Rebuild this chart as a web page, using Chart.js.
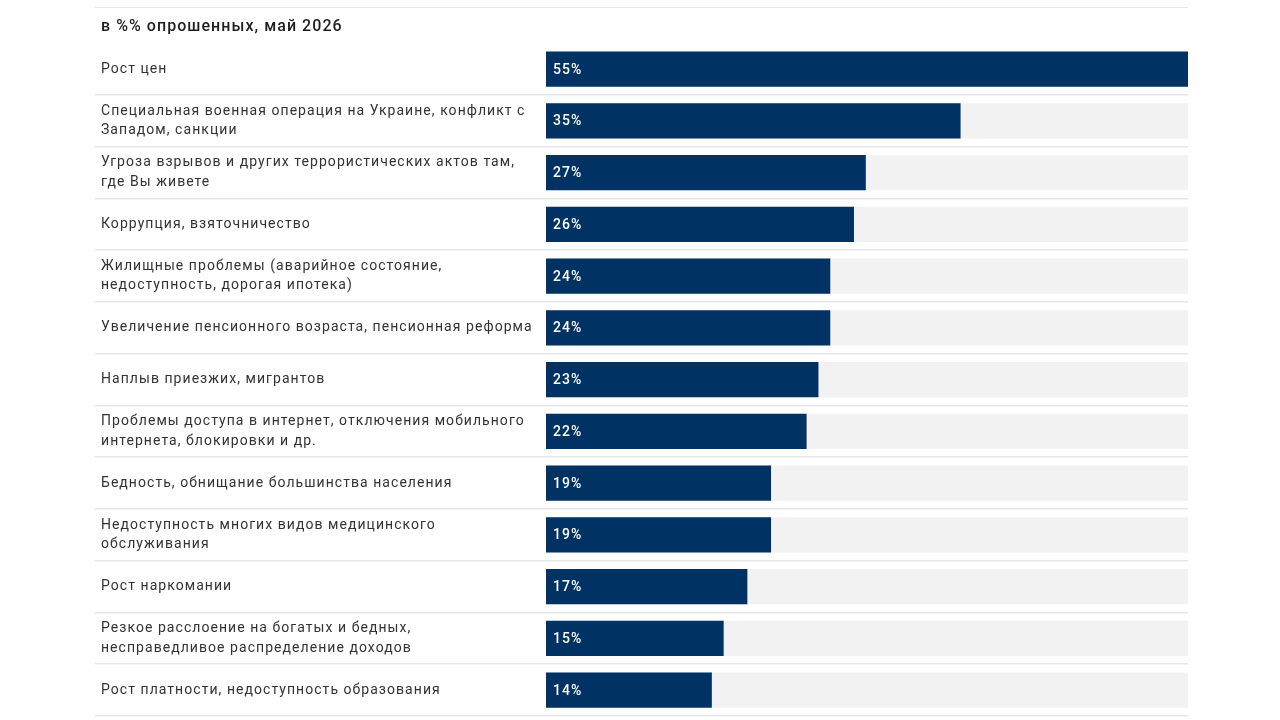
<!DOCTYPE html>
<html lang="ru">
<head>
<meta charset="utf-8">
<script src="https://cdn.jsdelivr.net/npm/chart.js@4.4.1/dist/chart.umd.min.js"></script>
<style>
  body { margin: 0; background: #fff; }
  .wrap { position: relative; width: 1280px; height: 720px; }
  .topline { position: absolute; left: 95px; top: 7px; width: 1093px; height: 1px; background: #e6e6e6; }
</style>
</head>
<body>
<div class="wrap">
  <div class="topline"></div>
  <canvas id="chart" width="1280" height="720"></canvas>
</div>
<script>
'use strict';

const title = 'в %% опрошенных, май 2026';

const categories = [
  'Рост цен',
  [ 'Специальная военная операция на Украине, конфликт с', 'Западом, санкции' ],
  [ 'Угроза взрывов и других террористических актов там,', 'где Вы живете' ],
  'Коррупция, взяточничество',
  [ 'Жилищные проблемы (аварийное состояние,', 'недоступность, дорогая ипотека)' ],
  'Увеличение пенсионного возраста, пенсионная реформа',
  'Наплыв приезжих, мигрантов',
  [ 'Проблемы доступа в интернет, отключения мобильного', 'интернета, блокировки и др.' ],
  'Бедность, обнищание большинства населения',
  [ 'Недоступность многих видов медицинского', 'обслуживания' ],
  'Рост наркомании',
  [ 'Резкое расслоение на богатых и бедных,', 'несправедливое распределение доходов' ],
  'Рост платности, недоступность образования'
];

const values = [ 55, 35, 27, 26, 24, 24, 23, 22, 19, 19, 17, 15, 14 ];

// the top bar runs slightly past the grey track in the source, so the axis stops a bit short of 55
const axisMax = 54.2;
const track = categories.map( () => axisMax );

// the source picture is a bit wide, so spread the letters out
const spacing = {
  id: 'spacing',
  beforeDraw( chart ) {
    chart.ctx.letterSpacing = '1.05px';
  }
};

const barLabels = {
  id: 'barLabels',
  afterDatasetsDraw( chart ) {
    const ctx = chart.ctx;
    const meta = chart.getDatasetMeta( 0 );
    ctx.save();
    ctx.fillStyle = '#ffffff';
    ctx.font = '500 14px Roboto';
    ctx.letterSpacing = '1px';
    ctx.textAlign = 'left';
    ctx.textBaseline = 'middle';
    meta.data.forEach( ( bar, i ) => {
      ctx.fillText( values[i] + '%', bar.base + 7, bar.y + 1 );
    } );
    ctx.restore();
  }
};

new Chart( document.getElementById( 'chart' ), {
  type: 'bar',
  data: {
    labels: categories,
    datasets: [ {
      data: values,
      backgroundColor: '#003263',
      order: 0,
      grouped: false,
      barPercentage: 1,
      categoryPercentage: 0.68
    }, {
      data: track,
      backgroundColor: '#f2f2f2',
      order: 1,
      grouped: false,
      barPercentage: 1,
      categoryPercentage: 0.68
    } ]
  },
  options: {
    indexAxis: 'y',
    responsive: false,
    animation: false,
    layout: {
      padding: { left: 101, right: 92, top: 17, bottom: 4 }
    },
    plugins: {
      legend: { display: false },
      tooltip: { enabled: false },
      title: {
        display: true,
        text: title,
        align: 'start',
        color: '#1e1e1e',
        font: { family: 'Roboto', size: 16, weight: '500' },
        padding: { top: 0, bottom: 7 }
      }
    },
    scales: {
      x: {
        display: false,
        min: 0,
        max: axisMax
      },
      y: {
        afterFit( scale ) {
          scale.width = 445;
          scale.paddingTop = 0;
          scale.paddingBottom = 0;
        },
        border: { display: false },
        grid: {
          offset: true,
          drawTicks: true,
          tickLength: 451,
          lineWidth: 1.5,
          color: ( c ) => c.index === 0 ? 'rgba(0,0,0,0)' : '#e6e6e6'
        },
        ticks: {
          crossAlign: 'far',
          color: '#333333',
          font: { family: 'Roboto', size: 14, lineHeight: 1.4 }
        }
      }
    }
  },
  plugins: [ spacing, barLabels ]
} );
</script>
</body>
</html>
